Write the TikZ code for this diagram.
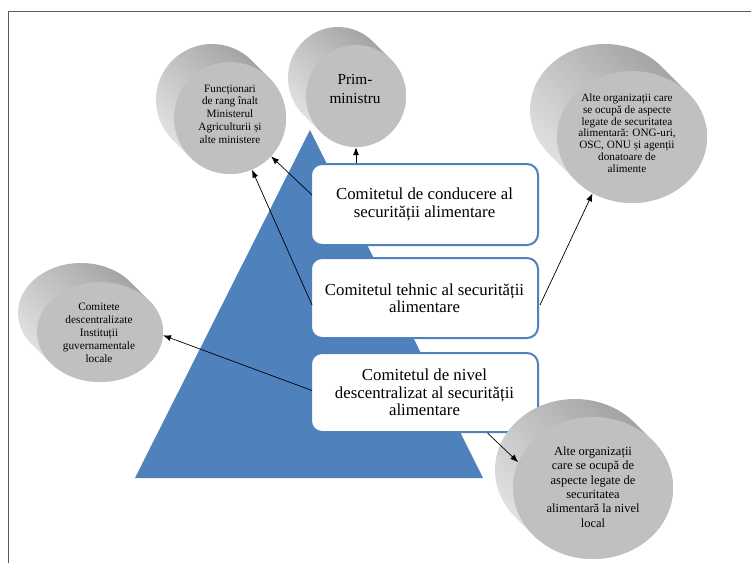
\documentclass[tikz,border=0pt]{standalone}
\usepackage{fontspec}
\setmainfont{Liberation Serif}
\usetikzlibrary{arrows.meta,calc,shapes.geometric}
\definecolor{pyrblue}{HTML}{4F81BD}
\definecolor{cylfront}{HTML}{C0C0C0}
\definecolor{cyldark}{HTML}{9C9C9C}
\definecolor{cylmid}{HTML}{C8C8C8}
\definecolor{cyllight}{HTML}{E8E8E8}
\definecolor{framegray}{HTML}{5A5A5A}
% #1 cx, #2 cy (front face centre), #3 x radius, #4 y radius, #5 depth offset
\newcommand\cylside[5]{%
  \pgfmathsetmacro\cya{atan(#4/#3)}%
  \pgfmathsetmacro\cyx{#1-#5+#3*cos(\cya)}%
  \pgfmathsetmacro\cyy{#2-#5-#4*sin(\cya)}%
  \shade[cylshade] (\cyx,\cyy) arc[start angle=-\cya, end angle={-180-\cya}, x radius=#3, y radius=#4]
    -- ++(#5,#5) arc[start angle={-180-\cya}, end angle={-360-\cya}, x radius=#3, y radius=#4] -- cycle;
}
\begin{document}
\begin{tikzpicture}[x=1pt,y=-1pt,
  boxnode/.style={draw=pyrblue, line width=2pt, fill=white, rounded corners=11pt,
    minimum width=227pt, align=center, inner sep=0pt,
    font=\fontsize{16.8}{17.5}\selectfont},
  cylface/.style={ellipse, fill=cylfront, inner sep=0pt},
  cyltext/.style={align=center, inner sep=0pt},
  cylshade/.style={top color=cyldark, middle color=cylmid, bottom color=cyllight, shading angle=-45},
  conn/.style={-{Latex[length=8pt,width=6pt]}, line width=0.7pt, black}]

\useasboundingbox (0,0) rectangle (751,563);
\fill[white] (0,0) rectangle (751,563);
\draw[framegray, line width=1pt] (8,563) -- (8,11) -- (751,11);

% pyramid
\fill[pyrblue] (135,478) -- (483,478) -- (310,130) -- cycle;

% committee boxes
\node[boxnode, minimum height=81pt] (b1) at (424.5,204.5) {Comitetul de conducere al\\securității alimentare};
\node[boxnode, minimum height=80pt] (b2) at (424.5,298) {Comitetul tehnic al securității\\alimentare};
\node[boxnode, minimum height=79pt] (b3) at (424.5,392.5) {Comitetul de nivel\\descentralizat al securității\\alimentare};

% cylinders
\cylside{230}{118}{56}{56}{18}
\node[cylface, minimum width=112pt, minimum height=112pt] (f1) at (230,118) {};
\node[cyltext, font=\fontsize{11.2}{12.7}\selectfont] (t1) at (230,114)
  {Funcționari\\de rang înalt\\Ministerul\\Agriculturii și\\alte ministere};

\cylside{356}{96}{50}{51}{18}
\node[cylface, minimum width=100pt, minimum height=102pt] (f2) at (356,96) {};
\node[cyltext, font=\fontsize{15.3}{19}\selectfont] (t2) at (355,89) {Prim-\\ministru};

\cylside{632}{137}{75}{66}{27}
\node[cylface, minimum width=150pt, minimum height=132pt] (f3) at (632,137) {};
\node[cyltext, font=\fontsize{11.2}{11.8}\selectfont] (t3) at (627,133)
  {Alte organizații care\\se ocupă de aspecte\\legate de securitatea\\alimentară: ONG-uri,\\OSC, ONU și agenții\\donatoare de\\alimente};

\cylside{100}{332}{63}{50}{19}
\node[cylface, minimum width=126pt, minimum height=100pt] (f4) at (100,332) {};
\node[cyltext, font=\fontsize{11.3}{13}\selectfont] (t4) at (99,333)
  {Comitete\\descentralizate\\Instituții\\guvernamentale\\locale};

\cylside{593}{488}{80}{71}{18}
\node[cylface, minimum width=160pt, minimum height=142pt] (f5) at (593,488) {};
\node[cyltext, font=\fontsize{12.5}{14.3}\selectfont] (t5) at (593,487)
  {Alte organizații\\care se ocupă de\\aspecte legate de\\securitatea\\alimentară la nivel\\local};

% connectors
\draw[conn] (b1.north -| f2.south) -- (f2.south);
\draw[conn] ($(b1.west)+(2,-9.5)$) -- (f1.-43);
\draw[conn] ($(b2.west)+(2,7)$) -- (f1.-67);
\draw[conn] ($(b2.east)+(1,7)$) -- (f3.-125);
\draw[conn] ($(b3.west)+(2,-2)$) -- (f4.-3);
\draw[conn] ($(b3.south)+(63,0)$) -- (f5.161);
\end{tikzpicture}
\end{document}
